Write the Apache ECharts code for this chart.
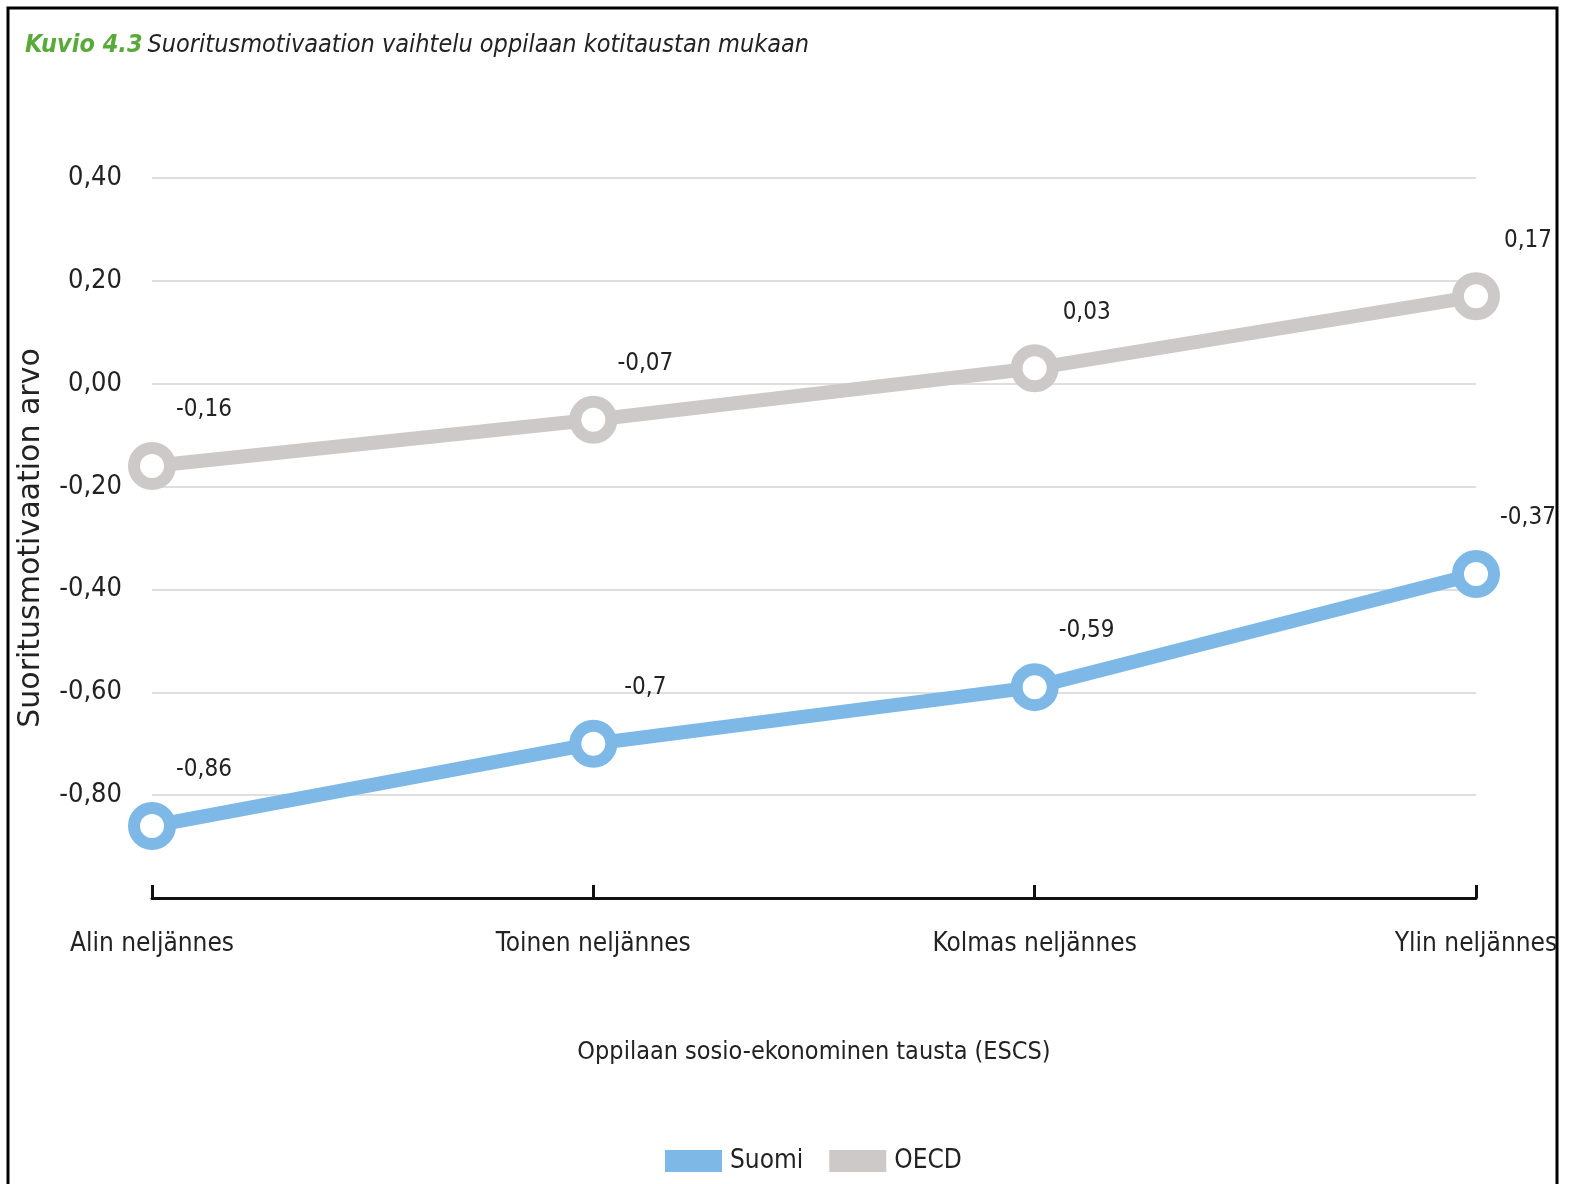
<!DOCTYPE html>
<html><head><meta charset="utf-8">
<script src="https://cdn.jsdelivr.net/npm/echarts@6/dist/echarts.min.js"></script>
<style>html,body{margin:0;padding:0;background:#fff}#c{width:1569px;height:1184px}</style>
</head><body><div id="c"></div>
<script>
const categories = ['Alin neljännes', 'Toinen neljännes', 'Kolmas neljännes', 'Ylin neljännes'];
const suomi = [-0.86, -0.7, -0.59, -0.37];
const oecd = [-0.16, -0.07, 0.03, 0.17];
const seriesNames = ['Suomi', 'OECD'];
const yTicks = [-1.0, -0.8, -0.6, -0.4, -0.2, 0.0, 0.2, 0.4];

const NARROW = '"Liberation Sans Narrow","DejaVu Sans Condensed",sans-serif';
const BLUE = '#7db8e6', GRAY = '#cdc9c8';
const chart = echarts.init(document.getElementById('c'), null, {renderer: 'canvas'});
const fmt = v => String(v).replace('.', ',');
function mkSeries(name, data, color) {
  return {
    name, type: 'line', data, symbol: 'circle', symbolSize: 36,
    lineStyle: {color, width: 14},
    itemStyle: {color: '#fff', borderColor: color, borderWidth: 12},
    label: {show: true, position: 'top', offset: [52, -15], fontFamily: NARROW, fontSize: 24, color: '#222',
      formatter: p => fmt(p.value)},
    emphasis: {disabled: true}, z: 3
  };
}
chart.setOption({
  animation: false,
  backgroundColor: '#fff',
  title: {
    left: 20, top: 28,
    text: '{g|Kuvio 4.3} {b|Suoritusmotivaation vaihtelu oppilaan kotitaustan mukaan}',
    textStyle: {fontWeight: 'normal', rich: {
      g: {fontFamily: NARROW, fontStyle: 'italic', fontWeight: 'bold', fontSize: 25, color: '#5aaa3b'},
      b: {fontFamily: NARROW, fontStyle: 'italic', fontWeight: 'normal', fontSize: 25, color: '#222'}
    }}
  },
  graphic: [
    {type: 'rect', shape: {x: 8, y: 8, width: 1549, height: 1190}, style: {fill: 'none', stroke: '#000', lineWidth: 3}, silent: true}
  ],
  legend: {
    bottom: 5, left: 660, itemWidth: 57, itemHeight: 22, itemGap: 26, icon: 'rect',
    textStyle: {fontFamily: NARROW, fontSize: 26, color: '#222', padding: [0, 0, 0, 3]},
    data: [
      {name: seriesNames[0], itemStyle: {color: BLUE, borderWidth: 0}},
      {name: seriesNames[1], itemStyle: {color: GRAY, borderWidth: 0}}
    ]
  },
  grid: {left: 152, right: 93, top: 178, bottom: 286, containLabel: false},
  xAxis: {
    type: 'category', data: categories, boundaryGap: false,
    name: 'Oppilaan sosio-ekonominen tausta (ESCS)', nameLocation: 'middle', nameGap: 142,
    nameTextStyle: {fontFamily: NARROW, fontSize: 25, color: '#222'},
    axisLine: {onZero: false, lineStyle: {color: '#111', width: 3}},
    axisTick: {show: true, inside: true, length: 13, lineStyle: {color: '#111', width: 3}},
    axisLabel: {fontFamily: NARROW, fontSize: 26, color: '#222', margin: 33}
  },
  yAxis: {
    type: 'value', min: yTicks[0], max: yTicks[yTicks.length - 1], interval: 0.2,
    name: 'Suoritusmotivaation arvo', nameLocation: 'middle', nameGap: 106,
    nameTextStyle: {fontFamily: '"DejaVu Sans",sans-serif', fontSize: 30, color: '#222'},
    axisLine: {show: false}, axisTick: {show: false},
    splitLine: {lineStyle: {color: '#d4d4d4', width: 1.5}},
    axisLabel: {fontFamily: NARROW, fontSize: 27, color: '#222', margin: 30, showMinLabel: false,
      formatter: v => v.toFixed(2).replace('.', ',').replace(/^-0,00$/, '0,00')}
  },
  series: [mkSeries(seriesNames[0], suomi, BLUE), mkSeries(seriesNames[1], oecd, GRAY)]
});
</script></body></html>
